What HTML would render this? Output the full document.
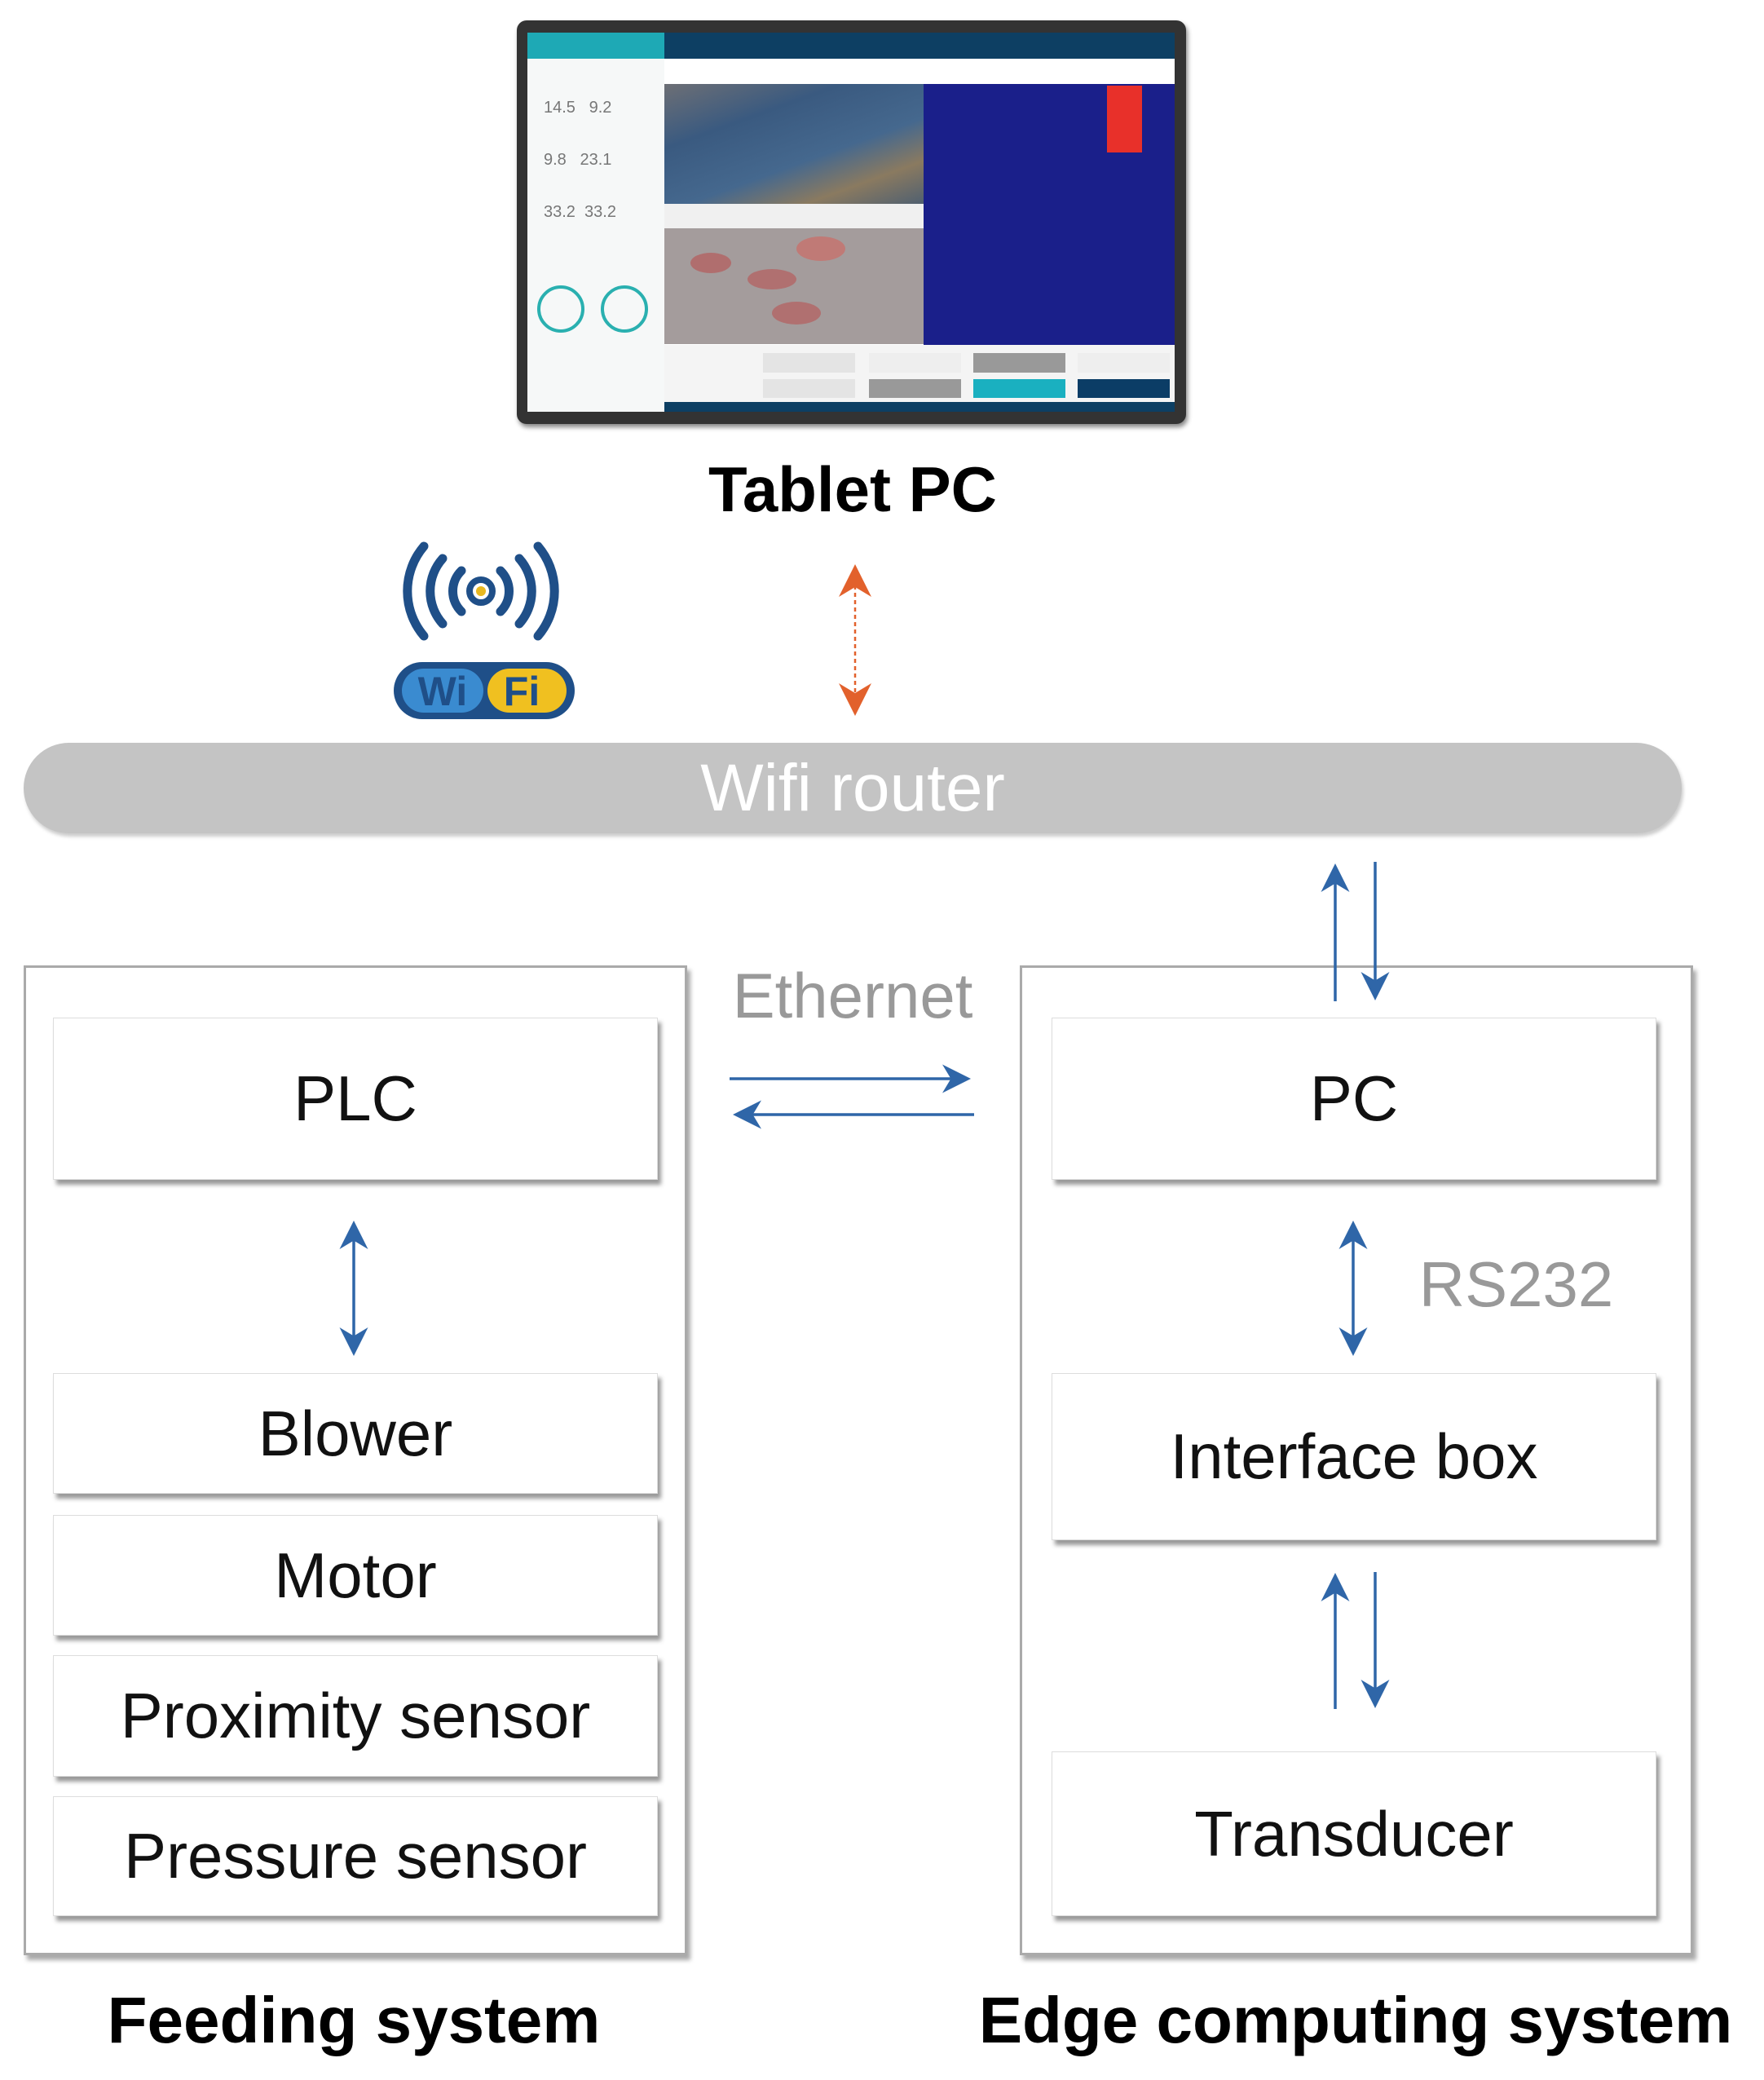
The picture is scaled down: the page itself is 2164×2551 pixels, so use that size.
<!DOCTYPE html>
<html><head><meta charset="utf-8"><style>
html,body{margin:0;padding:0;background:#fff;}
body{width:2164px;height:2551px;position:relative;overflow:hidden;font-family:"Liberation Sans",sans-serif;}
.a{position:absolute;}
.box{position:absolute;background:#fff;border:1px solid #ddd;box-shadow:4px 6px 5px #999;display:flex;align-items:center;justify-content:center;font-size:78px;color:#111;}
.outer{position:absolute;border:3px solid #aaa;box-shadow:4px 6px 5px #aaa;background:#fff;}
.lbl{position:absolute;font-weight:bold;font-size:80px;color:#000;text-align:center;}
</style></head><body>

<!-- Tablet -->
<div class="a" style="left:634px;top:25px;width:821px;height:495px;background:#333;border-radius:12px;box-shadow:2px 4px 6px #888;">
 <div class="a" style="left:13px;top:15px;width:794px;height:465px;background:#fff;overflow:hidden;">
  <div class="a" style="left:0;top:0;width:168px;height:32px;background:#1ea9b5;"></div>
  <div class="a" style="left:168px;top:0;width:626px;height:32px;background:#0d3f63;"></div>
  <div class="a" style="left:0;top:32px;width:168px;height:433px;background:#f6f8f8;"></div>
  <div class="a" style="left:20px;top:60px;width:140px;height:200px;font-size:20px;color:#777;line-height:64px;">14.5 &nbsp;&nbsp;9.2<br>9.8 &nbsp;&nbsp;23.1<br>33.2 &nbsp;33.2</div>
  <div class="a" style="left:12px;top:310px;width:50px;height:50px;border:4px solid #2ab0b0;border-radius:50%;"></div>
  <div class="a" style="left:90px;top:310px;width:50px;height:50px;border:4px solid #2ab0b0;border-radius:50%;"></div>
  <div class="a" style="left:168px;top:63px;width:318px;height:147px;background:linear-gradient(160deg,#6d6f75 0%,#3a5a80 30%,#45688e 60%,#8a7a60 80%,#506070 100%);"></div>
  <div class="a" style="left:168px;top:210px;width:318px;height:30px;background:#f0f0f0;"></div>
  <div class="a" style="left:168px;top:240px;width:318px;height:142px;background:#a49c9c;"></div>
  <div class="a" style="left:200px;top:270px;width:50px;height:25px;background:#b06e6e;border-radius:50%;"></div>
  <div class="a" style="left:270px;top:290px;width:60px;height:25px;background:#b07070;border-radius:50%;"></div>
  <div class="a" style="left:330px;top:250px;width:60px;height:30px;background:#c07a76;border-radius:50%;"></div>
  <div class="a" style="left:300px;top:330px;width:60px;height:28px;background:#b07070;border-radius:50%;"></div>
  <div class="a" style="left:486px;top:63px;width:308px;height:320px;background:#1a1f8a;"></div>
  <div class="a" style="left:711px;top:65px;width:43px;height:82px;background:#e8302a;"></div>
  <div class="a" style="left:168px;top:383px;width:626px;height:70px;background:#f4f4f4;"></div>
  <div class="a" style="left:289px;top:393px;width:113px;height:24px;background:#e4e4e4;"></div>
  <div class="a" style="left:419px;top:393px;width:113px;height:24px;background:#eee;"></div>
  <div class="a" style="left:547px;top:393px;width:113px;height:24px;background:#999;"></div>
  <div class="a" style="left:675px;top:393px;width:113px;height:24px;background:#eee;"></div>
  <div class="a" style="left:289px;top:425px;width:113px;height:23px;background:#e4e4e4;"></div>
  <div class="a" style="left:419px;top:425px;width:113px;height:23px;background:#999;"></div>
  <div class="a" style="left:547px;top:425px;width:113px;height:23px;background:#1ab0c0;"></div>
  <div class="a" style="left:675px;top:425px;width:113px;height:23px;background:#0b3d66;"></div>
  <div class="a" style="left:168px;top:453px;width:626px;height:12px;background:#0d3f63;"></div>
 </div>
</div>
<div class="lbl" style="left:746px;top:555px;width:600px;font-size:78px;">Tablet PC</div>

<!-- Router -->
<div class="a" style="left:29px;top:911px;width:2034px;height:111px;background:#c4c4c4;border-radius:56px;box-shadow:2px 4px 4px #ccc;"></div>
<div class="a" style="left:29px;top:911px;width:2034px;height:111px;line-height:111px;text-align:center;color:#fff;font-size:82px;">Wifi router</div>

<!-- outer boxes -->
<div class="outer" style="left:29px;top:1184px;width:808px;height:1208px;"></div>
<div class="outer" style="left:1251px;top:1184px;width:820px;height:1208px;"></div>

<div class="box" style="left:65px;top:1248px;width:740px;height:197px;">PLC</div>
<div class="box" style="left:65px;top:1684px;width:740px;height:146px;">Blower</div>
<div class="box" style="left:65px;top:1858px;width:740px;height:146px;">Motor</div>
<div class="box" style="left:65px;top:2030px;width:740px;height:147px;">Proximity sensor</div>
<div class="box" style="left:65px;top:2203px;width:740px;height:145px;">Pressure sensor</div>

<div class="box" style="left:1290px;top:1248px;width:740px;height:197px;">PC</div>
<div class="box" style="left:1290px;top:1684px;width:740px;height:203px;">Interface box</div>
<div class="box" style="left:1290px;top:2148px;width:740px;height:200px;">Transducer</div>

<div class="a" style="left:846px;top:1176px;width:400px;text-align:center;color:#999;font-size:78px;">Ethernet</div>
<div class="a" style="left:1710px;top:1530px;width:300px;text-align:center;color:#999;font-size:78px;">RS232</div>

<div class="lbl" style="left:34px;top:2432px;width:800px;">Feeding system</div>
<div class="lbl" style="left:1163px;top:2432px;width:1000px;">Edge computing system</div>

<svg class="a" style="left:0;top:0" width="2164" height="2551" viewBox="0 0 2164 2551">
 <defs>
  <marker id="b" viewBox="0 0 10 10" refX="8" refY="5" markerWidth="10" markerHeight="10" orient="auto-start-reverse"><path d="M0,0 L10,5 L0,10 L3,5 z" fill="#2f66a8"/></marker>
  <marker id="o" viewBox="0 0 10 10" refX="8" refY="5" markerWidth="16" markerHeight="16" orient="auto-start-reverse"><path d="M0,0 L10,5 L0,10 L3,5 z" fill="#e2612c"/></marker>
 </defs>
 <line x1="1049" y1="700" x2="1049" y2="870" stroke="#e2612c" stroke-width="2.5" stroke-dasharray="5,4" marker-start="url(#o)" marker-end="url(#o)"/>
 <g stroke="#2f66a8" stroke-width="3.5" fill="none">
  <line x1="1638" y1="1228" x2="1638" y2="1066" marker-end="url(#b)"/>
  <line x1="1687" y1="1057" x2="1687" y2="1220" marker-end="url(#b)"/>
  <line x1="895" y1="1323" x2="1184" y2="1323" marker-end="url(#b)"/>
  <line x1="1195" y1="1367" x2="906" y2="1367" marker-end="url(#b)"/>
  <line x1="434" y1="1504" x2="434" y2="1656" marker-start="url(#b)" marker-end="url(#b)"/>
  <line x1="1660" y1="1504" x2="1660" y2="1656" marker-start="url(#b)" marker-end="url(#b)"/>
  <line x1="1638" y1="2096" x2="1638" y2="1936" marker-end="url(#b)"/>
  <line x1="1687" y1="1928" x2="1687" y2="2088" marker-end="url(#b)"/>
 </g>
 <!-- wifi icon -->
 <g stroke="#1f4f88" stroke-width="11" fill="none" stroke-linecap="round">
  <path d="M566,700 A35,35 0 0 0 566,750"/><path d="M614,700 A35,35 0 0 1 614,750"/>
  <path d="M543,685 A60,60 0 0 0 543,765"/><path d="M637,685 A60,60 0 0 1 637,765"/>
  <path d="M520,670 A85,85 0 0 0 520,780"/><path d="M660,670 A85,85 0 0 1 660,780"/>
 </g>
 <circle cx="590" cy="725" r="14" fill="none" stroke="#1f4f88" stroke-width="8"/>
 <circle cx="590" cy="725" r="6" fill="#e8b820"/>
 <rect x="483" y="812" width="222" height="70" rx="35" fill="#1f4f88"/>
 <rect x="493" y="820" width="100" height="54" rx="27" fill="#3a8bd0"/>
 <rect x="598" y="820" width="97" height="54" rx="27" fill="#f0c020"/>
 <text x="543" y="865" font-family="Liberation Sans" font-weight="bold" font-size="50" fill="#1f4f88" text-anchor="middle">Wi</text>
 <text x="640" y="865" font-family="Liberation Sans" font-weight="bold" font-size="50" fill="#1f4f88" text-anchor="middle">Fi</text>
</svg>
</body></html>
